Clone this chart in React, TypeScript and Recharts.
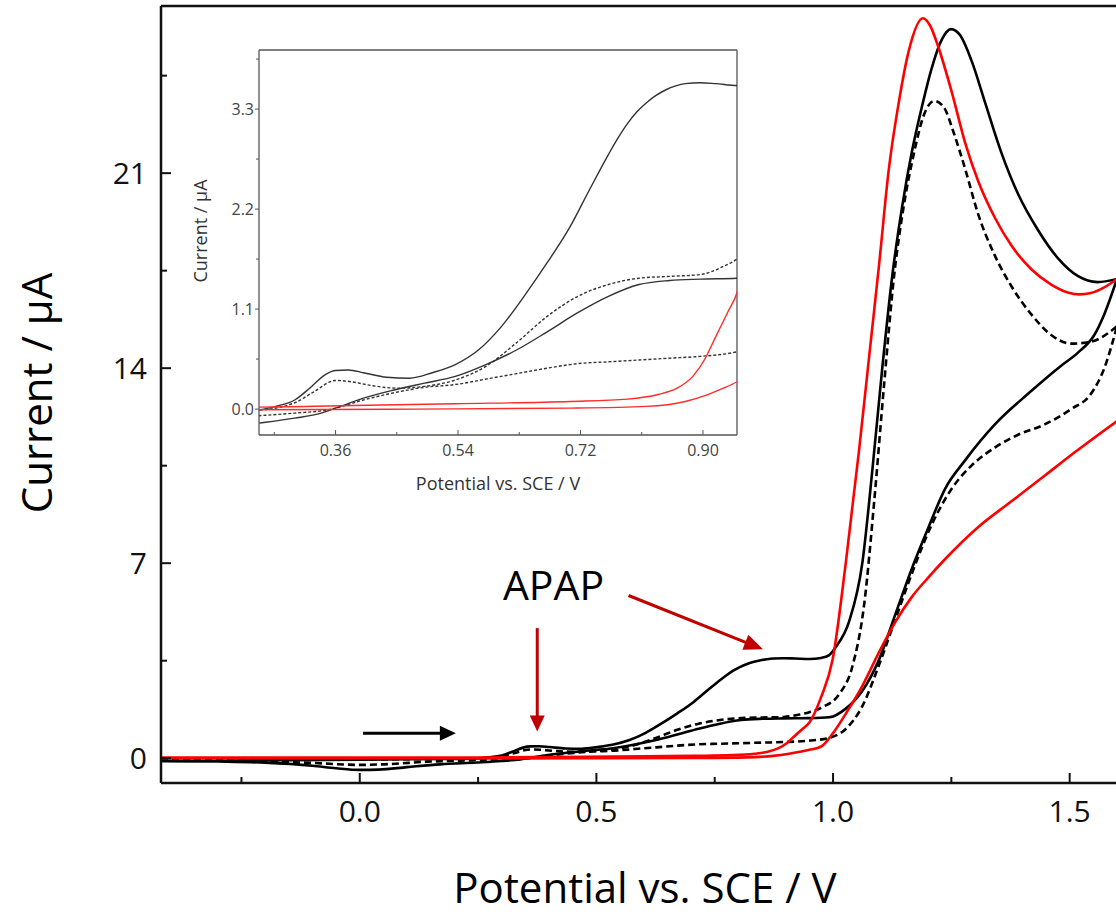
import React from 'react';
import { LineChart, Line, XAxis, YAxis, ReferenceLine } from 'recharts';

type P = [number, number];

// ---- Cyclic voltammograms: [potential V, current µA] ----
const BLACK_FWD: P[] = [
  [-0.42, -0.1], [-0.3, -0.09], [-0.15, -0.07], [0.0, -0.05], [0.1, -0.04], [0.18, -0.03],
  [0.2475, -0.007], [0.272, 0.03], [0.3, 0.1], [0.322, 0.23], [0.345, 0.38], [0.36, 0.425],
  [0.379, 0.43], [0.401, 0.4], [0.435, 0.35], [0.469, 0.34], [0.502, 0.4], [0.536, 0.49],
  [0.57, 0.65], [0.604, 0.91], [0.637, 1.24], [0.671, 1.61], [0.705, 2.01], [0.733, 2.41],
  [0.761, 2.8], [0.775, 2.98], [0.789, 3.14], [0.803, 3.27], [0.817, 3.37], [0.831, 3.45],
  [0.845, 3.51], [0.86, 3.555], [0.874, 3.58], [0.896, 3.59], [0.919, 3.58], [0.95, 3.56],
  [0.975, 3.6], [0.992, 3.7], [1.006, 3.99], [1.034, 4.91], [1.062, 7.02], [1.083, 10.33],
  [1.104, 14.0], [1.125, 17.3], [1.146, 19.8], [1.167, 21.8], [1.188, 23.4], [1.209, 24.8],
  [1.23, 25.8], [1.249, 26.17], [1.269, 25.94], [1.293, 25.02], [1.321, 23.55], [1.356, 21.72],
  [1.391, 20.25], [1.433, 18.96], [1.475, 17.95], [1.517, 17.31], [1.559, 17.09], [1.6, 17.2],
];
const BLACK_REV: P[] = [
  [-0.42, -0.1], [-0.3, -0.12], [-0.2, -0.16], [-0.1, -0.27], [-0.05, -0.36], [0.0, -0.42],
  [0.04, -0.41], [0.1, -0.32], [0.17, -0.22], [0.2475, -0.154], [0.3, -0.1], [0.339, -0.044],
  [0.367, 0.03], [0.401, 0.12], [0.446, 0.21], [0.491, 0.286], [0.536, 0.36], [0.581, 0.49],
  [0.626, 0.65], [0.671, 0.85], [0.716, 1.06], [0.761, 1.24], [0.806, 1.37], [0.851, 1.415],
  [0.896, 1.43], [0.95, 1.44], [0.992, 1.47], [1.027, 1.78], [1.062, 2.42], [1.097, 3.53],
  [1.132, 5.18], [1.167, 6.83], [1.202, 8.3], [1.237, 9.68], [1.279, 10.69], [1.342, 11.98],
  [1.412, 13.08], [1.482, 14.09], [1.517, 14.55], [1.552, 15.19], [1.573, 15.93], [1.6, 17.2],
];
const DASH_FWD: P[] = [
  [-0.42, -0.06], [-0.2, -0.05], [0.0, -0.04], [0.15, -0.03], [0.2475, -0.01], [0.3, 0.07],
  [0.328, 0.19], [0.36, 0.315], [0.384, 0.3], [0.412, 0.26], [0.452, 0.23], [0.491, 0.25],
  [0.536, 0.32], [0.581, 0.47], [0.626, 0.73], [0.671, 1.02], [0.716, 1.24], [0.761, 1.37],
  [0.806, 1.44], [0.851, 1.46], [0.896, 1.48], [0.93, 1.57], [0.95, 1.65], [0.98, 1.85],
  [1.013, 2.3], [1.041, 3.3], [1.066, 5.55], [1.087, 9.22], [1.108, 13.44], [1.129, 17.31],
  [1.15, 19.88], [1.171, 21.72], [1.192, 23.09], [1.214, 23.59], [1.234, 23.37], [1.255, 22.45],
  [1.279, 21.16], [1.307, 19.51], [1.342, 18.04], [1.377, 16.94], [1.419, 15.93], [1.461, 15.19],
  [1.503, 14.88], [1.545, 14.95], [1.6, 15.5],
];
const DASH_REV: P[] = [
  [-0.42, -0.07], [-0.25, -0.09], [-0.1, -0.17], [0.0, -0.24], [0.05, -0.22], [0.15, -0.12],
  [0.2475, -0.073], [0.3, -0.044], [0.35, -0.007], [0.401, 0.1], [0.446, 0.18], [0.491, 0.24],
  [0.536, 0.27], [0.581, 0.33], [0.626, 0.39], [0.671, 0.45], [0.716, 0.5], [0.761, 0.52],
  [0.806, 0.54], [0.851, 0.56], [0.896, 0.58], [0.95, 0.63], [0.992, 0.73], [1.027, 1.05],
  [1.062, 1.87], [1.097, 3.34], [1.132, 5.0], [1.167, 6.65], [1.209, 8.4], [1.251, 9.68],
  [1.293, 10.51], [1.342, 11.15], [1.391, 11.61], [1.447, 11.98], [1.503, 12.53], [1.545, 13.08],
  [1.573, 13.99], [1.6, 15.5],
];
const RED_FWD: P[] = [
  [-0.42, 0.02], [0.0, 0.02], [0.2475, 0.022], [0.367, 0.037], [0.536, 0.059], [0.705, 0.084],
  [0.789, 0.11], [0.834, 0.16], [0.862, 0.23], [0.885, 0.36], [0.902, 0.54], [0.919, 0.8],
  [0.936, 1.06], [0.95, 1.28], [0.975, 2.2], [0.999, 3.53], [1.027, 7.02], [1.055, 11.06],
  [1.076, 14.37], [1.097, 17.67], [1.118, 21.16], [1.139, 23.55], [1.16, 25.39], [1.19, 26.56],
  [1.205, 26.3], [1.223, 25.5], [1.251, 23.9], [1.279, 22.1], [1.307, 20.7], [1.342, 19.4],
  [1.377, 18.4], [1.419, 17.55], [1.461, 17.0], [1.496, 16.72], [1.52, 16.65], [1.545, 16.7],
  [1.573, 16.9], [1.6, 17.2],
];
const RED_REV: P[] = [
  [-0.42, 0.0], [0.2475, -0.007], [0.48, 0.0], [0.705, 0.011], [0.817, 0.03], [0.874, 0.084],
  [0.907, 0.16], [0.93, 0.23], [0.95, 0.3], [0.975, 0.42], [1.0, 0.9], [1.027, 1.6],
  [1.062, 2.6], [1.097, 3.8], [1.132, 4.9], [1.167, 5.8], [1.202, 6.5], [1.237, 7.15],
  [1.307, 8.3], [1.377, 9.22], [1.447, 10.14], [1.517, 11.06], [1.6, 12.1],
];

// ---- axes ----
const MAIN_X_DOMAIN: [number, number] = [-0.42, 1.6];
const MAIN_Y_DOMAIN: [number, number] = [-0.89, 27];
const MAIN_X_TICKS = [-0.25, 0, 0.25, 0.5, 0.75, 1.0, 1.25, 1.5];
const MAIN_X_LABELS = [0, 0.5, 1.0, 1.5];
const MAIN_Y_TICKS = [0, 3.5, 7, 10.5, 14, 17.5, 21, 24.5];
const MAIN_Y_LABELS = [0, 7, 14, 21];

const INSET_X_DOMAIN: [number, number] = [0.2475, 0.95];
const INSET_Y_DOMAIN: [number, number] = [-0.285, 3.95];
const INSET_X_TICKS = [0.27, 0.36, 0.45, 0.54, 0.63, 0.72, 0.81, 0.9];
const INSET_X_LABELS = [0.36, 0.54, 0.72, 0.9];
const INSET_Y_TICKS = [0, 0.55, 1.1, 1.65, 2.2, 2.75, 3.3, 3.85];
const INSET_Y_LABELS = [0, 1.1, 2.2, 3.3];

// ---- annotations (data coordinates) ----
const ARROW_PEAK1: P[] = [[0.375, 4.67], [0.375, 0.96]];
const ARROW_PEAK2: P[] = [[0.568, 5.84], [0.852, 3.91]];
const ARROW_SCAN: P[] = [[0.007, 0.9], [0.203, 0.9]];

const FONT = '"Open Sans", "DejaVu Sans", sans-serif';

const rows = (pts: P[]) => pts.map(([v, i]) => ({ v, i }));

const SERIES = [
  { key: 'dash-fwd', data: rows(DASH_FWD), color: '#000', dash: true },
  { key: 'dash-rev', data: rows(DASH_REV), color: '#000', dash: true },
  { key: 'black-fwd', data: rows(BLACK_FWD), color: '#000', dash: false },
  { key: 'black-rev', data: rows(BLACK_REV), color: '#000', dash: false },
  { key: 'red-fwd', data: rows(RED_FWD), color: '#ff0000', dash: false },
  { key: 'red-rev', data: rows(RED_REV), color: '#ff0000', dash: false },
];

const isIn = (list: number[], v: number) => list.some((t) => Math.abs(t - v) < 1e-6);

const MainXTick = (props: any) => {
  const { x, y, payload } = props;
  const major = isIn(MAIN_X_LABELS, payload.value);
  return (
    <g>
      <line x1={x} y1={y} x2={x} y2={y - (major ? 10 : 6)} stroke="#111" strokeWidth={2} />
      {major && (
        <text x={x} y={y + 39} textAnchor="middle" fontSize={30} fill="#111" fontFamily={FONT}>
          {payload.value.toFixed(1)}
        </text>
      )}
    </g>
  );
};

const MainYTick = (props: any) => {
  const { x, y, payload } = props;
  const major = isIn(MAIN_Y_LABELS, payload.value);
  return (
    <g>
      <line x1={x} y1={y} x2={x + (major ? 10 : 6)} y2={y} stroke="#111" strokeWidth={2} />
      {major && (
        <text x={x - 14} y={y + 10.5} textAnchor="end" fontSize={30} fill="#111" fontFamily={FONT}>
          {String(payload.value)}
        </text>
      )}
    </g>
  );
};

const InsetXTick = (props: any) => {
  const { x, y, payload } = props;
  const major = isIn(INSET_X_LABELS, payload.value);
  return (
    <g>
      <line x1={x} y1={y} x2={x} y2={y - (major ? 5 : 3)} stroke="#555" strokeWidth={1} />
      {major && (
        <text x={x} y={y + 20.5} textAnchor="middle" fontSize={16} fill="#444" fontFamily={FONT}>
          {payload.value.toFixed(2)}
        </text>
      )}
    </g>
  );
};

const InsetYTick = (props: any) => {
  const { x, y, payload } = props;
  const major = isIn(INSET_Y_LABELS, payload.value);
  return (
    <g>
      <line x1={x} y1={y} x2={x - (major ? 4 : 3)} y2={y} stroke="#555" strokeWidth={1} />
      {major && (
        <text x={x - 5} y={y + 5.5} textAnchor="end" fontSize={16} fill="#444" fontFamily={FONT}>
          {payload.value.toFixed(1)}
        </text>
      )}
    </g>
  );
};

const arrowShape = (color: string, width: number, headLen: number, headW: number) => (props: any) => {
  const { x1, y1, x2, y2 } = props;
  const dx = x2 - x1;
  const dy = y2 - y1;
  const L = Math.hypot(dx, dy) || 1;
  const ux = dx / L;
  const uy = dy / L;
  const bx = x2 - ux * headLen;
  const by = y2 - uy * headLen;
  const px = (-uy * headW) / 2;
  const py = (ux * headW) / 2;
  return (
    <g>
      <line x1={x1} y1={y1} x2={bx + ux} y2={by + uy} stroke={color} strokeWidth={width} />
      <polygon points={`${x2},${y2} ${bx + px},${by + py} ${bx - px},${by - py}`} fill={color} />
    </g>
  );
};

const seg = (pts: P[]) => pts.map(([x, y]) => ({ x, y }));

export default function App() {
  return (
    <div
      style={{
        position: 'fixed',
        left: 0,
        top: 0,
        width: 1116,
        height: 917,
        overflow: 'hidden',
        background: '#fff',
      }}
    >
      <div style={{ position: 'absolute', left: 0, top: 0 }}>
        <LineChart width={1130} height={917} margin={{ top: 6, right: 13, bottom: 94, left: 101 }}>
          <XAxis
            dataKey="v"
            type="number"
            domain={MAIN_X_DOMAIN}
            allowDataOverflow
            ticks={MAIN_X_TICKS}
            interval={0}
            height={40}
            tickSize={0}
            tickMargin={0}
            tickLine={false}
            tick={MainXTick}
            axisLine={{ stroke: '#111', strokeWidth: 2.5 }}
          />
          <YAxis
            type="number"
            domain={MAIN_Y_DOMAIN}
            allowDataOverflow
            ticks={MAIN_Y_TICKS}
            interval={0}
            width={60}
            tickSize={0}
            tickMargin={0}
            tickLine={false}
            tick={MainYTick}
            axisLine={{ stroke: '#111', strokeWidth: 2.5 }}
          />
          <ReferenceLine y={MAIN_Y_DOMAIN[1]} stroke="#111" strokeWidth={2.5} />
          {SERIES.map((s) => (
            <Line
              key={s.key}
              data={s.data}
              dataKey="i"
              type="monotone"
              stroke={s.color}
              strokeWidth={2.6}
              strokeDasharray={s.dash ? '7 4' : undefined}
              dot={false}
              activeDot={false}
              isAnimationActive={false}
            />
          ))}
          <ReferenceLine
            segment={seg(ARROW_PEAK1)}
            shape={arrowShape('#c00000', 3, 16, 15)}
          />
          <ReferenceLine
            segment={seg(ARROW_PEAK2)}
            shape={arrowShape('#c00000', 3, 19, 16)}
          />
          <ReferenceLine
            segment={seg(ARROW_SCAN)}
            shape={arrowShape('#000', 3, 16, 15)}
          />
        </LineChart>
      </div>

      <div style={{ position: 'absolute', left: 210, top: 40 }}>
        <LineChart width={535} height={440} margin={{ top: 10, right: 8, bottom: 15, left: 9 }}>
          <XAxis
            dataKey="v"
            type="number"
            domain={INSET_X_DOMAIN}
            allowDataOverflow
            ticks={INSET_X_TICKS}
            interval={0}
            height={30}
            tickSize={0}
            tickMargin={0}
            tickLine={false}
            tick={InsetXTick}
            axisLine={{ stroke: '#555', strokeWidth: 1.3 }}
          />
          <YAxis
            type="number"
            domain={INSET_Y_DOMAIN}
            allowDataOverflow
            ticks={INSET_Y_TICKS}
            interval={0}
            width={40}
            tickSize={0}
            tickMargin={0}
            tickLine={false}
            tick={InsetYTick}
            axisLine={{ stroke: '#555', strokeWidth: 1.3 }}
          />
          <ReferenceLine y={INSET_Y_DOMAIN[1]} stroke="#555" strokeWidth={1.3} />
          <ReferenceLine x={INSET_X_DOMAIN[1]} stroke="#555" strokeWidth={1.3} />
          {SERIES.map((s) => (
            <Line
              key={s.key}
              data={s.data}
              dataKey="i"
              type="monotone"
              stroke={s.color === '#000' ? '#333' : '#ff2a2a'}
              strokeWidth={1.4}
              strokeDasharray={s.dash ? '3 2' : undefined}
              dot={false}
              activeDot={false}
              isAnimationActive={false}
            />
          ))}
        </LineChart>
      </div>

      <svg
        width={1116}
        height={917}
        style={{ position: 'absolute', left: 0, top: 0, pointerEvents: 'none' }}
      >
        <text x={553.5} y={600} textAnchor="middle" fontSize={41} fill="#000" fontFamily={FONT}>
          APAP
        </text>
        <text x={645} y={903} textAnchor="middle" fontSize={42} fill="#000" fontFamily={FONT}>
          Potential vs. SCE / V
        </text>
        <text
          transform="translate(52,393) rotate(-90)"
          textAnchor="middle"
          fontSize={42}
          fill="#000"
          fontFamily={FONT}
        >
          Current / µA
        </text>
        <text x={498} y={490} textAnchor="middle" fontSize={18} fill="#333" fontFamily={FONT}>
          Potential vs. SCE / V
        </text>
        <text
          transform="translate(207,231) rotate(-90)"
          textAnchor="middle"
          fontSize={18}
          fill="#333"
          fontFamily={FONT}
        >
          Current / µA
        </text>
      </svg>
    </div>
  );
}
